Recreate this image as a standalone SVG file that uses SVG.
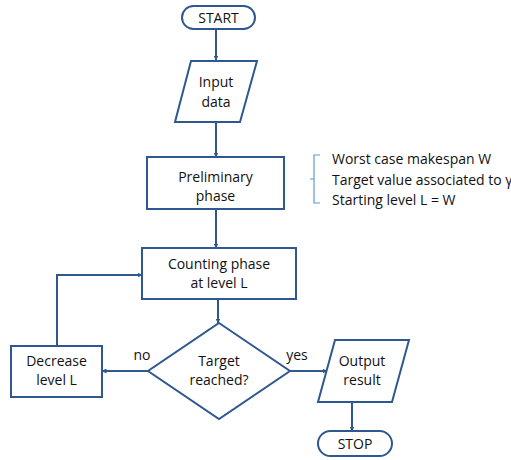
<svg xmlns="http://www.w3.org/2000/svg" width="511" height="460" viewBox="0 0 511 460">
<style>
.s{fill:#fff;stroke:#2f5890;stroke-width:2}
.c{fill:none;stroke:#2f5890;stroke-width:2}
text{font-family:"Open Sans","Liberation Sans",sans-serif;font-size:14px;fill:#111;text-anchor:middle}
.l{text-anchor:start}
</style>
<defs>
<marker id="a" viewBox="0 0 10 10" refX="9" refY="5" markerWidth="5" markerHeight="5" orient="auto" markerUnits="userSpaceOnUse">
<path d="M0,0 L10,5 L0,10 z" fill="#2f5890"/>
</marker>
</defs>
<g id="connectors">
<path class="c" d="M216,29 V60" marker-end="url(#a)"/>
<path class="c" d="M216,122 V157" marker-end="url(#a)"/>
<path class="c" d="M216,209 V248" marker-end="url(#a)"/>
<path class="c" d="M218,299 V323" marker-end="url(#a)"/>
<path class="c" d="M148,371 H102" marker-end="url(#a)"/>
<path class="c" d="M290,371 H327" marker-end="url(#a)"/>
<path class="c" d="M57,346 V275 H142" marker-end="url(#a)"/>
<path class="c" d="M352,402 V431" marker-end="url(#a)"/>
<text x="142" y="360">no</text>
<text x="297" y="360">yes</text>
</g>
<g id="start">
<rect class="s" x="182" y="6" width="73" height="23" rx="11.5"/>
<text x="218.5" y="23">START</text>
</g>
<g id="input">
<polygon class="s" points="191,61 257,61 240,122 175,122"/>
<text x="216" y="87">Input</text>
<text x="216" y="107">data</text>
</g>
<g id="preliminary">
<rect class="s" x="147" y="157" width="137" height="52"/>
<text x="215.5" y="182">Preliminary</text>
<text x="215.5" y="201">phase</text>
</g>
<g id="note">
<path d="M320,155 H314 V203 H320 M314,179 H310" fill="none" stroke="#5b9bd5" stroke-width="1.2"/>
<text class="l" x="332" y="164">Worst case makespan W</text>
<text class="l" x="332" y="185">Target value associated to γ</text>
<text class="l" x="332" y="205">Starting level L = W</text>
</g>
<g id="counting">
<rect class="s" x="142" y="248" width="154" height="51"/>
<text x="219" y="269">Counting phase</text>
<text x="219" y="288">at level L</text>
</g>
<g id="decision">
<polygon class="s" points="219,323 290,371 219,419 148,371"/>
<text x="219" y="366">Target</text>
<text x="219" y="385">reached?</text>
</g>
<g id="decrease">
<rect class="s" x="11" y="346" width="91" height="51"/>
<text x="56.5" y="366">Decrease</text>
<text x="56.5" y="385">level L</text>
</g>
<g id="output">
<polygon class="s" points="335,340 409,340 392,402 318,402"/>
<text x="362" y="366">Output</text>
<text x="362" y="385">result</text>
</g>
<g id="stop">
<rect class="s" x="318" y="431" width="74" height="25" rx="12.5"/>
<text x="355" y="449">STOP</text>
</g>
</svg>
